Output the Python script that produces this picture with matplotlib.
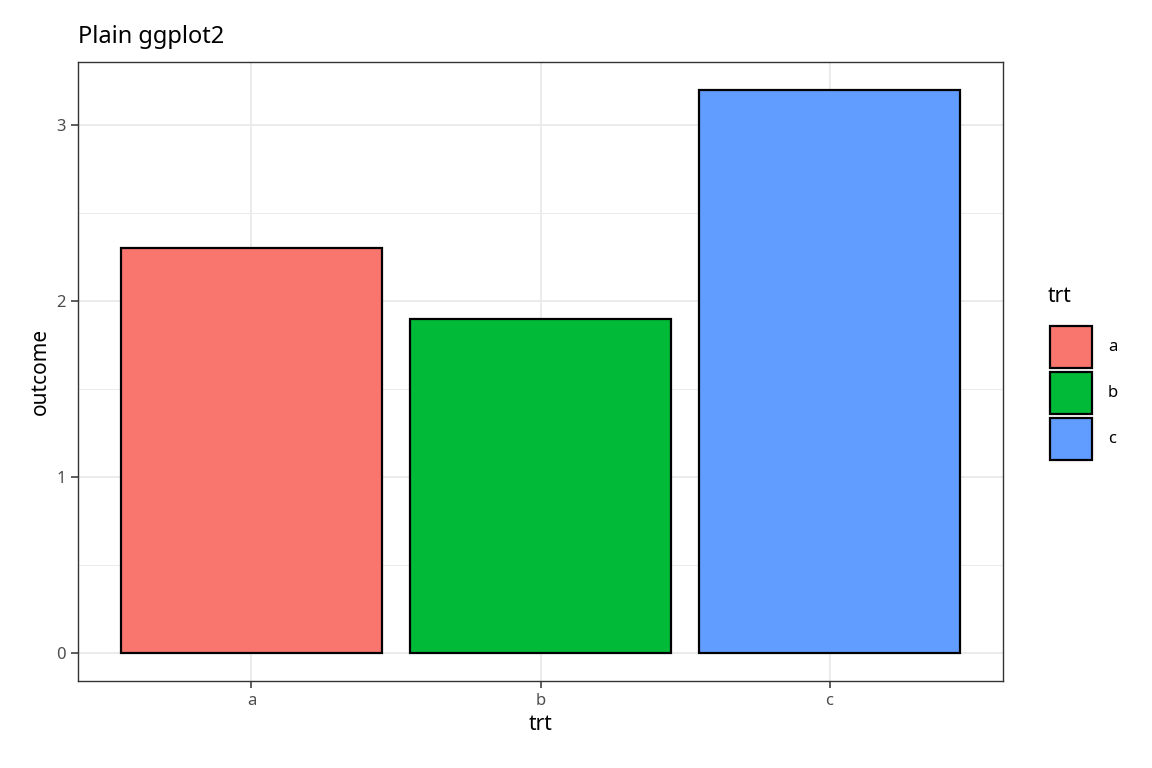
import matplotlib
matplotlib.use("Agg")
import matplotlib.pyplot as plt
from matplotlib.patches import Rectangle

plt.rcParams['font.family'] = ['Noto Sans', 'DejaVu Sans']

# data
trt = ['a', 'b', 'c']
outcome = [2.3, 1.9, 3.2]
colors = ['#F8766D', '#00BA38', '#619CFF']

W, H = 1152, 768
fig = plt.figure(figsize=(W / 100, H / 100), dpi=100)
ax = fig.add_axes([78 / W, 1 - 681 / H, (1003 - 78) / W, (681 - 62) / H])

x = range(len(trt))
ax.bar(x, outcome, width=0.9, color=colors, edgecolor='black', linewidth=1.6, zorder=3)

ax.set_xlim(-0.6, 2.6)
ax.set_ylim(-0.16, 3.36)
ax.set_xticks(list(x))
ax.set_xticklabels(trt)
ax.set_yticks([0, 1, 2, 3])
ax.set_yticks([0.5, 1.5, 2.5], minor=True)
ax.grid(which='major', color='#EBEBEB', linewidth=1.4, zorder=0)
ax.grid(which='minor', color='#EBEBEB', linewidth=0.7, zorder=0)
ax.tick_params(which='major', labelsize=12, labelcolor='#4D4D4D', color='#333333', length=5, width=1.1)
ax.tick_params(which='minor', length=0)
for s in ax.spines.values():
    s.set_color('#333333')
    s.set_linewidth(1.0)

ax.set_xlabel('trt', fontsize=15)
ax.set_ylabel('outcome', fontsize=15)
ax.set_title('Plain ggplot2', fontsize=17, loc='left', x=0.0, pad=14)

# legend drawn manually
fig.text(1048 / W, 1 - 297 / H, 'trt', fontsize=15, va='center', ha='left')
for i, (lab, c) in enumerate(zip(trt, colors)):
    top = 326 + i * 46
    fig.patches.append(Rectangle((1050 / W, 1 - (top + 42) / H), 42 / W, 42 / H,
                                 facecolor=c, edgecolor='black', linewidth=1.6,
                                 transform=fig.transFigure, figure=fig))
    fig.text(1108 / W, 1 - (top + 21) / H, lab, fontsize=12, va='center', ha='left')

fig.savefig('out.png', dpi=100)
